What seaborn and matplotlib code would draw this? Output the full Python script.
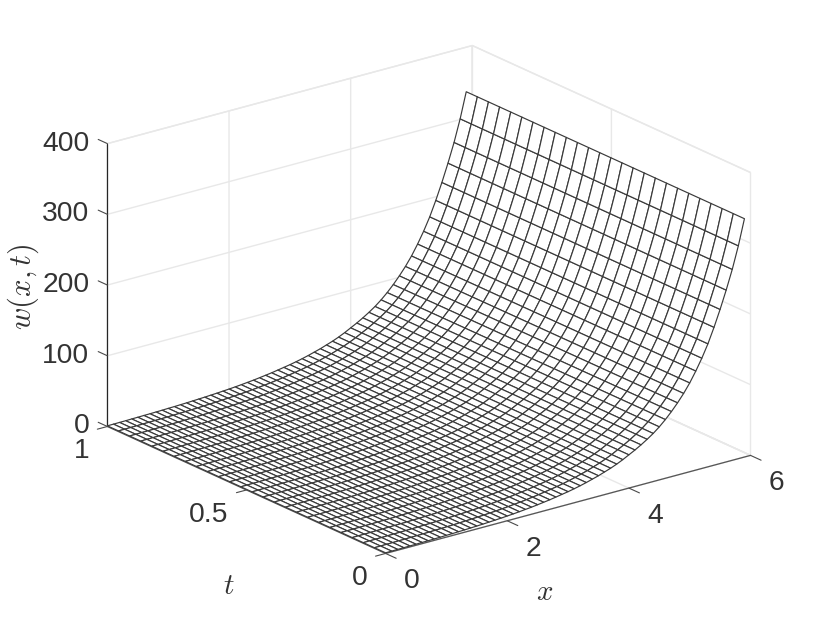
import numpy as np
import seaborn as sns
import matplotlib.pyplot as plt
from mpl_toolkits.mplot3d import proj3d

sns.set_theme(style="white")
plt.rcParams['font.family'] = ['Liberation Sans', 'DejaVu Sans']
plt.rcParams['mathtext.fontset'] = 'cm'

# grid
x_vals = [0.0, 0.1, 0.2, 0.3, 0.4, 0.5, 0.6, 0.7, 0.8, 0.9,
          1.0, 1.1, 1.2, 1.3, 1.4, 1.5, 1.6, 1.7, 1.8, 1.9,
          2.0, 2.1, 2.2, 2.3, 2.4, 2.5, 2.6, 2.7, 2.8, 2.9,
          3.0, 3.1, 3.2, 3.3, 3.4, 3.5, 3.6, 3.7, 3.8, 3.9,
          4.0, 4.1, 4.2, 4.3, 4.4, 4.5, 4.6, 4.7, 4.8, 4.9,
          5.0, 5.1, 5.2, 5.3, 5.4, 5.5, 5.6, 5.7, 5.8, 5.9]
t_vals = [0.0, 0.04, 0.08, 0.12, 0.16, 0.2, 0.24, 0.28, 0.32, 0.36, 0.4, 0.44, 0.48,
          0.52, 0.56, 0.6, 0.64, 0.68, 0.72, 0.76, 0.8, 0.84, 0.88, 0.92, 0.96, 1.0]
# w along x, the surface hardly changes with t
w_vals = [0.9, 1.0, 1.1, 1.2, 1.4, 1.5, 1.7, 1.8, 2.0, 2.2,
          2.5, 2.7, 3.0, 3.3, 3.7, 4.1, 4.5, 5.0, 5.5, 6.1,
          6.7, 7.4, 8.2, 9.1, 10.0, 11.1, 12.3, 13.5, 15.0, 16.5,
          18.0, 19.8, 21.8, 24.0, 26.5, 29.0, 32.0, 35.0, 38.5, 42.5,
          47.0, 51.5, 56.5, 62.0, 68.0, 75.0, 83.0, 92.0, 102.0, 113.0,
          125.5, 140.0, 156.0, 174.0, 195.0, 218.0, 243.0, 270.0, 301.0, 337.0]

x_ticks = [0, 2, 4, 6]
t_ticks = [0, 0.5, 1]
t_labels = ['0', '0.5', '1']
z_ticks = [0, 100, 200, 300, 400]
tick_col = '#4a4a4a'
text_col = '#333333'
tick_fs = 20.3

X, T = np.meshgrid(x_vals, t_vals)
W = np.tile(w_vals, (len(t_vals), 1))

fig = plt.figure(figsize=(8.3, 6.23), dpi=100)
ax = fig.add_axes([0.0872, -0.0531, 0.8366, 1.1146], projection='3d', facecolor='white')
ax.set_proj_type('ortho')
ax.view_init(elev=20.5, azim=-127.5)
ax.set_box_aspect((460, 457, 302))

ax.plot_surface(X, T, W, rstride=1, cstride=1, color='white', edgecolor='#3a3a3a',
                linewidth=0.85, shade=False)

ax.set_xlim(0, 6, view_margin=0)
ax.set_ylim(0, 1, view_margin=0)
ax.set_zlim(0, 400, view_margin=0)
ax.set_xticks(x_ticks)
ax.set_yticks(t_ticks)
ax.set_zticks(z_ticks)
ax.set_xticklabels([])
ax.set_yticklabels([])
ax.set_zticklabels([])

for axis in (ax.xaxis, ax.yaxis, ax.zaxis):
    axis.set_pane_color('white')
    axis.pane.set_edgecolor('#e8e8e8')
    axis.pane.set_linewidth(1)
    axis._axinfo['grid'].update(color='#e8e8e8', linewidth=1)
    axis._axinfo['tick'].update(inward_factor=0, outward_factor=0)
    axis.line.set_color('#555555')
    axis.line.set_linewidth(0.9)
ax.zaxis.line.set_color('#262626')


# ticks stick out the way MATLAB draws them, so do them by hand
def tick_label(x, y, z, s, dx, dy, ha):
    px, py, _ = proj3d.proj_transform(x, y, z, ax.get_proj())
    ax.annotate(s, xy=(px, py), xycoords='data', xytext=(dx, dy), textcoords='offset pixels',
                ha=ha, va='center', fontsize=tick_fs, color=text_col, annotation_clip=False)


for v in x_ticks:
    ax.plot([v, v], [0, -0.038], [0, 0], color=tick_col, lw=0.8)
    tick_label(v, 0, 0, str(v), 26, -28, 'center')
for v, s in zip(t_ticks, t_labels):
    ax.plot([0, -0.165], [v, v], [0, 0], color=tick_col, lw=0.8)
    tick_label(0, v, 0, s, -18, -25, 'right')
for v in z_ticks:
    ax.plot([0, 0], [1, 1.033], [v, v], color=tick_col, lw=0.8)
    tick_label(0, 1, v, str(v), -18, 0, 'right')

fig.text(545 / 830, 1 - 592 / 623, r'$x$', fontsize=21, color=text_col, ha='center', va='center')
fig.text(229 / 830, 1 - 586 / 623, r'$t$', fontsize=21, color=text_col, ha='center', va='center')
fig.text(23 / 830, 1 - 287 / 623, r'$w(x,t)$', fontsize=22, color=text_col, ha='center', va='center', rotation=90)

fig.savefig('out.png', dpi=100)
